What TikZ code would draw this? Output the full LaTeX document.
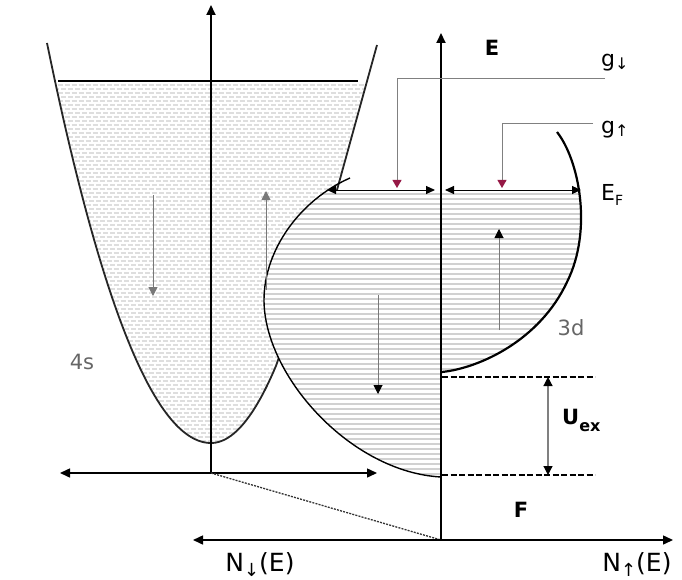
\documentclass[tikz,border=0pt]{standalone}
\usepackage{fontspec}
\setmainfont{DejaVu Sans}
\usetikzlibrary{arrows.meta}
\definecolor{gmark}{RGB}{150,25,70}
\definecolor{spingray}{RGB}{120,120,120}
\def\fourspath{plot[domain=-164:0,samples=50] ({211+\x},{443-(\x*\x/67.24)}) -- plot[domain=0:65,samples=30] ({211+\x},{443-(\x*\x/54.76)}) -- (337,190) -- (377,45)}
\def\downcurve{(350,178) .. controls (300,200) and (264,250) .. (264,300) .. controls (264,375) and (350,472) .. (441,477)}
\def\upcurve{(557,132) .. controls (579,160) and (593,230) .. (567,282) .. controls (540,340) and (480,368) .. (442,372)}
\begin{document}
\begin{tikzpicture}[x=1pt,y=-1pt,
  axis/.style={line width=1.8pt,black},
  bigtip/.style={-{Triangle[length=10pt,width=9pt]}},
  bothtip/.style={{Triangle[length=10pt,width=9pt]}-{Triangle[length=10pt,width=9pt]}},
  smalltips/.style={{Triangle[length=9pt,width=8pt]}-{Triangle[length=9pt,width=8pt]}},
  leader/.style={line width=0.9pt,gray,-{Triangle[length=8pt,width=9pt,color=gmark]}},
  spinarrow/.style={line width=1pt,spingray,-{Triangle[length=9pt,width=9pt]}},
  spinarrowd/.style={line width=1pt,spingray,-{Triangle[length=9pt,width=9pt,color=black]}},
  stripe3d/.style={line width=1.4pt,black!18},
  stripe4s/.style={line width=1.3pt,black!13},
  lbl/.style={font=\fontsize{22}{24}\selectfont,inner sep=0pt},
  nlbl/.style={font=\fontsize{25}{27}\selectfont,inner sep=0pt},
  blbl/.style={font=\fontsize{21}{23}\selectfont\bfseries,inner sep=0pt},
  glbl/.style={font=\fontsize{21}{23}\selectfont,inner sep=0pt,text=black!60}
]
\useasboundingbox[fill=white] (0,0) rectangle (682,580);

% ---- 4s band (stripes) ----
\begin{scope}
\clip \fourspath -- cycle;
\foreach \yy [count=\i, evaluate=\i as \ph using {mod(\i,2)*3.5}] in {85,89,...,441}
  \draw[stripe4s,dash pattern=on 5pt off 2pt,dash phase=\ph] (40,\yy) -- (390,\yy);
\end{scope}
\draw[line width=1.8pt,black!85,line join=round] \fourspath;
\coordinate (topL) at (58,81);
\coordinate (topR) at (358,81);
\draw[line width=1.8pt] (topL) -- (topR);

% ---- 3d down band (left) ----
\begin{scope}
\clip (240,191) rectangle (441,480);
\fill[white] \downcurve -- (441,178) -- cycle;
\clip \downcurve -- (441,178) -- cycle;
\foreach \yy in {194,199,...,476} \draw[stripe3d] (250,\yy) -- (442,\yy);
\end{scope}
\draw[line width=1.4pt] \downcurve;

% ---- 3d up band (right) ----
\begin{scope}
\clip (441,191) rectangle (600,380);
\clip \upcurve -- (442,132) -- cycle;
\foreach \yy in {194,199,...,372} \draw[stripe3d] (440,\yy) -- (600,\yy);
\end{scope}
\draw[line width=2.2pt] \upcurve;

% ---- axes ----
\coordinate (Lo) at (211,473);
\coordinate (Ltop) at (211,5);
\coordinate (Lleft) at (60,473);
\coordinate (Lright) at (377,473);
\coordinate (Ro) at (441,540);
\coordinate (Rtop) at (441,33);
\coordinate (Bleft) at (193,540);
\coordinate (Bright) at (673,540);
\draw[axis,bigtip] (Lo) -- (Ltop);
\draw[line width=1.5pt,bothtip] (Lleft) -- (Lright);
\draw[line width=1.3pt,dash pattern=on 2pt off 1.2pt,black!80] (Lo) -- (Ro);
\draw[axis,line width=2pt,bigtip] (Ro) -- (Rtop);
\draw[line width=1.5pt,bothtip] (Bleft) -- (Bright);

% ---- Fermi level arrows ----
\coordinate (EFa) at (327,190);
\coordinate (EFb) at (435,190);
\coordinate (EFc) at (445,190);
\coordinate (EFd) at (581,190);
\draw[line width=1pt,smalltips] (EFa) -- (EFb);
\draw[line width=1pt,smalltips] (EFc) -- (EFd);

% ---- exchange splitting ----
\coordinate (D1a) at (442,377);
\coordinate (D1b) at (595,377);
\coordinate (D2a) at (442,475);
\coordinate (D2b) at (595,475);
\draw[line width=2.6pt,dash pattern=on 6pt off 2.5pt] (D1a) -- (D1b);
\draw[line width=2.6pt,dash pattern=on 6pt off 2.5pt] (D2a) -- (D2b);
\coordinate (Ua) at (548,377);
\coordinate (Ub) at (548,475);
\draw[line width=1.2pt,black!50,{Triangle[length=9pt,width=9pt,color=black]}-{Triangle[length=9pt,width=9pt,color=black]}] (Ua) -- (Ub);

% ---- g leaders ----
\coordinate (gd0) at (605,78);
\coordinate (gd1) at (397,78);
\coordinate (gd2) at (397,188);
\coordinate (gu0) at (593,123);
\coordinate (gu1) at (502,123);
\coordinate (gu2) at (502,188);
\draw[leader] (gd0) -- (gd1) -- (gd2);
\draw[leader] (gu0) -- (gu1) -- (gu2);

% ---- spin arrows ----
\coordinate (s1a) at (153,195);
\coordinate (s1b) at (153,296);
\coordinate (s2a) at (266,290);
\coordinate (s2b) at (266,191);
\coordinate (s3a) at (378,295);
\coordinate (s3b) at (378,394);
\coordinate (s4a) at (499,330);
\coordinate (s4b) at (499,229);
\draw[spinarrow] (s1a) -- (s1b);
\draw[spinarrow] (s2a) -- (s2b);
\draw[spinarrowd] (s3a) -- (s3b);
\draw[spinarrowd] (s4a) -- (s4b);

% ---- labels ----
\node[blbl] (lE) at (492,48) {E};
\node[lbl,anchor=west] (lgd) at (601,63) {g\raisebox{-3pt}{\fontsize{16}{16}\selectfont ↓}};
\node[lbl,anchor=west] (lgu) at (601,130) {g\raisebox{-3pt}{\fontsize{16}{16}\selectfont ↑}};
\node[lbl,anchor=west] (lEF) at (601,195) {E\raisebox{-5pt}{\fontsize{14}{14}\selectfont F}};
\node[glbl] (l4s) at (82,362) {4s};
\node[glbl] (l3d) at (571,328) {3d};
\node[blbl,anchor=west] (lU) at (562,420) {U\raisebox{-7pt}{\fontsize{16}{16}\selectfont ex}};
\node[blbl] (lF) at (521,510) {F};
\node[nlbl] (lNd) at (260,565) {N\raisebox{-5pt}{\fontsize{18}{18}\selectfont ↓}(E)};
\node[nlbl] (lNu) at (637,565) {N\raisebox{-5pt}{\fontsize{18}{18}\selectfont ↑}(E)};
\end{tikzpicture}
\end{document}
